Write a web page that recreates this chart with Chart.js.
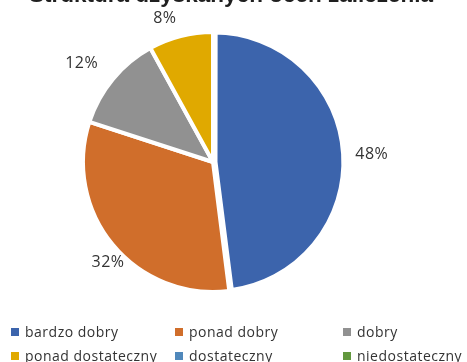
<!DOCTYPE html>
<html><head><meta charset="utf-8">
<script src="https://cdn.jsdelivr.net/npm/chart.js@4"></script>
<style>
html,body{margin:0;padding:0;background:#fff;}
#wrap{position:relative;width:467px;height:362px;overflow:hidden;}
#legend{position:absolute;left:0;top:0;width:467px;height:362px;pointer-events:none;font-family:"Open Sans",sans-serif;font-size:14px;color:#333333;}
.li{position:absolute;white-space:nowrap;height:16px;line-height:16px;}
.box{position:absolute;left:0;top:4px;width:8px;height:8px;}
.txt{position:absolute;left:14px;top:0;letter-spacing:0.5px;}
</style></head>
<body>
<div id="wrap">
<canvas id="c" width="467" height="362" style="width:467px;height:362px;display:block"></canvas>
<div id="legend"></div>
</div>
<script>
const titleText = "Struktura uzyskanych ocen zaliczenia";
const categories = ["bardzo dobry", "ponad dobry", "dobry", "ponad dostateczny", "dostateczny", "niedostateczny"];
const shares = [48, 32, 12, 8, 0, 0];
const colors = ["#3C64AC", "#D06E2B", "#919191", "#E0A900", "#5088BB", "#62983E"];

// label placement tweaks (distance from pie centre, angular shift in degrees)
const labelDist = [159, 145, 164, 151];
const labelShift = [0.7, -4, -2.8, -4.2];

const titlePlugin = {
  id: 'cutTitle',
  afterDraw(chart) {
    const ctx = chart.ctx;
    ctx.save();
    ctx.font = 'bold 22.5px "Liberation Sans", Arial, sans-serif';
    ctx.fillStyle = '#1f1f1f';
    ctx.textAlign = 'center';
    ctx.textBaseline = 'alphabetic';
    ctx.fillText(titleText, 231, 2);
    ctx.restore();
  }
};

const pctLabels = {
  id: 'pctLabels',
  afterDatasetsDraw(chart) {
    const ctx = chart.ctx;
    const meta = chart.getDatasetMeta(0);
    const data = chart.data.datasets[0].data;
    const total = data.reduce((a, b) => a + b, 0);
    ctx.save();
    ctx.font = '16px "Open Sans", sans-serif';
    try { ctx.letterSpacing = '0.5px'; } catch (e) {}
    ctx.fillStyle = '#333333';
    ctx.textAlign = 'center';
    ctx.textBaseline = 'middle';
    meta.data.forEach((arc, i) => {
      if (!data[i]) return;
      const p = arc.getProps(['x', 'y', 'startAngle', 'endAngle', 'outerRadius'], true);
      const mid = (p.startAngle + p.endAngle) / 2 + (labelShift[i] || 0) * Math.PI / 180;
      const d = labelDist[i] || (p.outerRadius + 25);
      const txt = Math.round(data[i] / total * 100) + '%';
      ctx.fillText(txt, p.x + Math.cos(mid) * d, p.y + Math.sin(mid) * d);
    });
    ctx.restore();
  }
};

new Chart(document.getElementById('c'), {
  type: 'pie',
  data: {
    labels: categories,
    datasets: [{
      data: shares,
      backgroundColor: colors,
      borderColor: '#ffffff',
      borderWidth: [7, 4, 4, 4, 4, 4],
      offset: [4, 0, 0, 0, 0, 0]
    }]
  },
  options: {
    responsive: false,
    animation: false,
    radius: 130,
    layout: { padding: { left: 0, right: 41, top: 0, bottom: 38 } },
    plugins: { legend: { display: false }, tooltip: { enabled: false }, title: { display: false } }
  },
  plugins: [pctLabels, titlePlugin]
});

const legend = document.getElementById('legend');
const colX = [11, 175, 343];
const rowY = [324, 348];
categories.forEach((name, i) => {
  const el = document.createElement('div');
  el.className = 'li';
  el.style.left = colX[i % 3] + 'px';
  el.style.top = rowY[Math.floor(i / 3)] + 'px';
  const b = document.createElement('span');
  b.className = 'box';
  b.style.background = colors[i];
  const t = document.createElement('span');
  t.className = 'txt';
  t.textContent = name;
  el.appendChild(b); el.appendChild(t);
  legend.appendChild(el);
});
</script>
</body></html>
